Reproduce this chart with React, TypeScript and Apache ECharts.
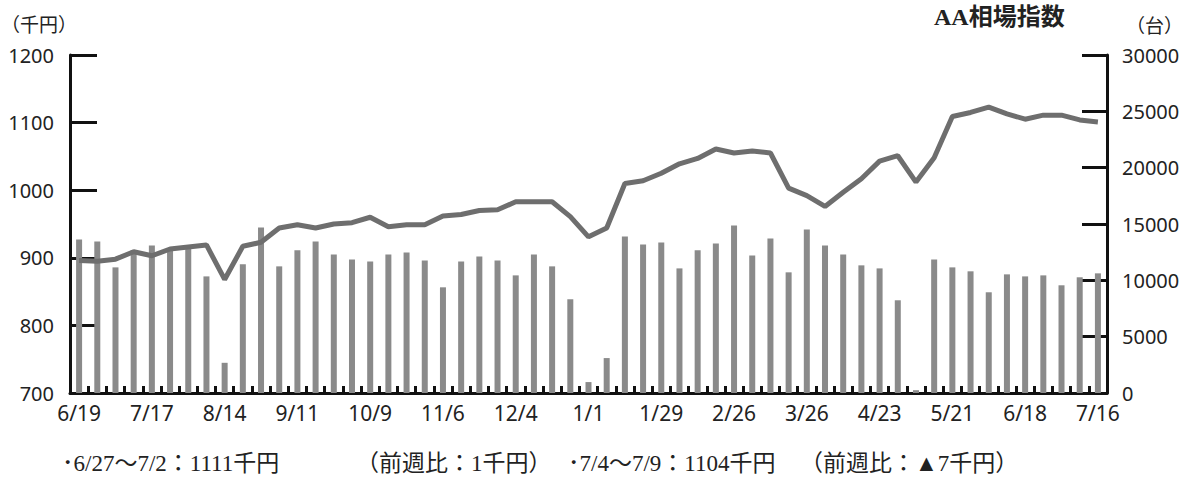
import React, { useEffect, useRef } from "react";
import * as echarts from "echarts";

const categories = [
  "6/19", "6/26", "7/3", "7/10", "7/17", "7/24", "7/31", "8/7", "8/14", "8/21",
  "8/28", "9/4", "9/11", "9/18", "9/25", "10/2", "10/9", "10/16", "10/23", "10/30",
  "11/6", "11/13", "11/20", "11/27", "12/4", "12/11", "12/18", "12/25", "1/1", "1/8",
  "1/15", "1/22", "1/29", "2/5", "2/12", "2/19", "2/26", "3/5", "3/12", "3/19",
  "3/26", "4/2", "4/9", "4/16", "4/23", "4/30", "5/7", "5/14", "5/21", "5/28",
  "6/4", "6/11", "6/18", "6/25", "7/2", "7/9", "7/16",
];

// AA相場指数 (千円) — left axis
const priceIndex = [
  896, 895, 898, 909, 903, 913, 916, 919, 868, 917,
  923, 944, 949, 944, 950, 952, 960, 946, 949, 949,
  962, 964, 970, 971, 983, 983, 983, 961, 931, 944,
  1010, 1014, 1025, 1039, 1047, 1061, 1055, 1058, 1055, 1003,
  992, 976, 997, 1017, 1043, 1051, 1012, 1048, 1109, 1115,
  1123, 1113, 1105, 1111, 1111, 1104, 1101,
];

// 台数 (台) — right axis
const units = [
  13630, 13450, 11150, 12700, 13100, 12800, 12900, 10350, 2680, 11420,
  14690, 11240, 12660, 13450, 12300, 11860, 11680, 12300, 12480, 11770,
  9380, 11680, 12120, 11770, 10440, 12300, 11240, 8320, 970, 3100,
  13890, 13190, 13360, 11060, 12660, 13270, 14870, 12210, 13720, 10710,
  14510, 13100, 12300, 11330, 11060, 8230, 250, 11860, 11150, 10800,
  8940, 10530, 10350, 10440, 9560, 10270, 10620,
];

const leftAxisUnit = "（千円）";
const rightAxisUnit = "（台）";
const seriesTitle = "AA相場指数";
const footnotes = [
  "･6/27～7/2：1111千円",
  "（前週比：1千円）",
  "･7/4～7/9：1104千円",
  "（前週比：▲7千円）",
];

export default function App() {
  const ref = useRef<HTMLDivElement>(null);

  useEffect(() => {
    document.body.style.margin = "0";
    const chart = echarts.init(ref.current!, null, { renderer: "svg" });
    const axisFont = "'Noto Sans', sans-serif";
    const noteFont = "'Liberation Serif', 'Noto Sans CJK JP', serif";
    const noteX = [62, 356, 568, 800];
    const plain = (v: number) => String(v);

    chart.setOption({
      animation: false,
      grid: { left: 70, right: 82, top: 55, bottom: 97 },
      xAxis: {
        type: "category",
        data: categories,
        boundaryGap: true,
        axisLine: { show: true, onZero: false, lineStyle: { color: "#111", width: 3 } },
        axisTick: {
          show: true,
          inside: true,
          length: 7,
          interval: 0,
          lineStyle: { color: "#111", width: 3 },
        },
        axisLabel: {
          interval: 3,
          margin: 9,
          fontSize: 21,
          color: "#222",
          fontFamily: axisFont,
        },
        splitLine: { show: false },
      },
      yAxis: [
        {
          type: "value",
          position: "left",
          min: 700,
          max: 1200,
          interval: 100,
          axisLine: { show: true, lineStyle: { color: "#111", width: 3 } },
          axisTick: { show: true, inside: true, length: 27, lineStyle: { color: "#111", width: 3 } },
          axisLabel: { margin: 16, fontSize: 20, color: "#222", fontFamily: axisFont, formatter: plain },
          splitLine: { show: false },
        },
        {
          type: "value",
          position: "right",
          min: 0,
          max: 30000,
          interval: 5000,
          axisLine: { show: true, lineStyle: { color: "#111", width: 3 } },
          axisTick: { show: true, inside: true, length: 25, lineStyle: { color: "#111", width: 3 } },
          axisLabel: { margin: 15, fontSize: 20, color: "#222", fontFamily: axisFont, formatter: plain },
          splitLine: { show: false },
        },
      ],
      series: [
        {
          type: "bar",
          yAxisIndex: 1,
          data: units,
          barWidth: 6,
          itemStyle: { color: "#8a8a8a" },
          z: 2,
        },
        {
          type: "line",
          yAxisIndex: 0,
          data: priceIndex,
          symbol: "none",
          lineStyle: { color: "#6e6e6e", width: 5 },
          z: 3,
        },
      ],
      graphic: [
        {
          type: "text",
          left: 1,
          top: 14,
          style: { text: leftAxisUnit, fontSize: 19, fill: "#222", fontFamily: "'Noto Sans CJK JP', sans-serif" },
        },
        {
          type: "text",
          left: 934,
          top: 5,
          style: {
            text: seriesTitle,
            fontSize: 24,
            fill: "#222",
            fontWeight: "bold",
            fontFamily: "'Liberation Serif', 'Noto Sans CJK JP', serif",
          },
        },
        {
          type: "text",
          left: 1126,
          top: 15,
          style: { text: rightAxisUnit, fontSize: 19, fill: "#222", fontFamily: "'Noto Sans CJK JP', sans-serif" },
        },
        ...footnotes.map((t, i) => ({
          type: "text",
          left: noteX[i],
          top: 452,
          style: { text: t, fontSize: 23, fill: "#222", fontFamily: noteFont },
        })),
      ],
    });

    return () => chart.dispose();
  }, []);

  return <div ref={ref} style={{ width: 1189, height: 490 }} />;
}
